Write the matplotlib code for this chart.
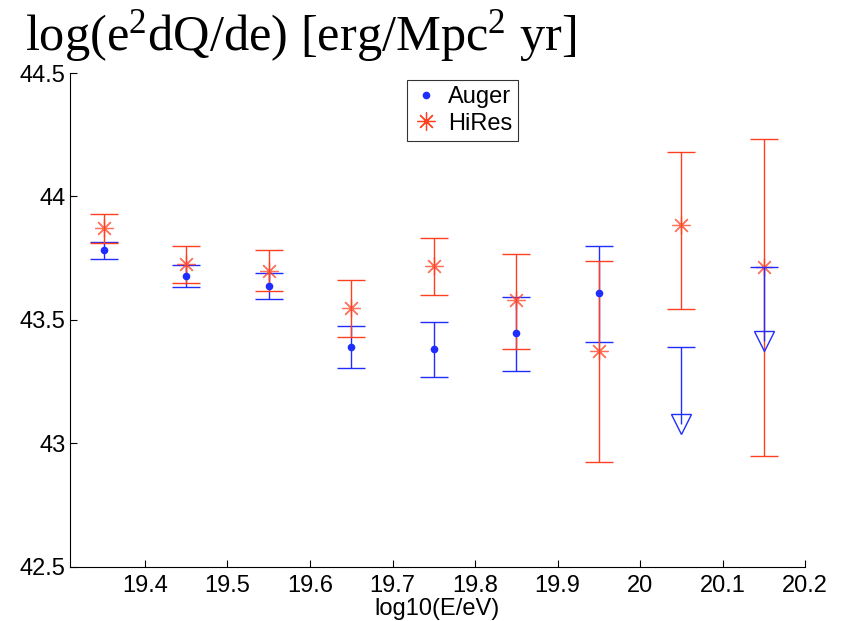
import matplotlib
matplotlib.use("Agg")
import matplotlib.pyplot as plt
from matplotlib.lines import Line2D

# ---- data ----
auger_x = [19.35, 19.45, 19.55, 19.65, 19.75, 19.85, 19.95]
auger_y = [43.783, 43.677, 43.636, 43.391, 43.382, 43.445, 43.610]
auger_lo = [43.747, 43.632, 43.584, 43.305, 43.270, 43.294, 43.410]
auger_hi = [43.815, 43.721, 43.690, 43.474, 43.491, 43.591, 43.799]

auger_ul_x = [20.05, 20.15]
auger_ul_cap = [43.390, 43.713]
auger_ul_val = [43.077, 43.414]

hires_x = [19.35, 19.45, 19.55, 19.65, 19.75, 19.85, 19.95, 20.05, 20.15]
hires_y = [43.871, 43.725, 43.699, 43.547, 43.718, 43.580, 43.374, 43.884, 43.714]
hires_lo = [43.812, 43.648, 43.615, 43.430, 43.600, 43.383, 42.923, 43.543, 42.950]
hires_hi = [43.929, 43.799, 43.781, 43.660, 43.830, 43.768, 43.737, 44.181, 44.232]

xticks = [19.4, 19.5, 19.6, 19.7, 19.8, 19.9, 20.0, 20.1, 20.2]
xticklabels = ["19.4", "19.5", "19.6", "19.7", "19.8", "19.9", "20", "20.1", "20.2"]
yticks = [42.5, 43.0, 43.5, 44.0, 44.5]
yticklabels = ["42.5", "43", "43.5", "44", "44.5"]

BLUE = "#1f2dff"
RED = "#ff4020"

plt.rcParams["font.family"] = ["Liberation Sans", "DejaVu Sans"]
plt.rcParams["mathtext.fontset"] = "custom"
plt.rcParams["mathtext.rm"] = "Liberation Serif"
plt.rcParams["mathtext.it"] = "Liberation Serif:italic"
plt.rcParams["mathtext.default"] = "rm"

fig = plt.figure(figsize=(8.46, 6.21), dpi=100)
ax = fig.add_axes([69.7 / 846, 1 - 566.7 / 621, (805.3 - 69.7) / 846, (566.7 - 73) / 621])

# Auger
a_err = [[y - l for y, l in zip(auger_y, auger_lo)], [h - y for y, h in zip(auger_y, auger_hi)]]
ax.errorbar(auger_x, auger_y, yerr=a_err, fmt="none", ecolor=BLUE,
            capsize=10, elinewidth=1.0, capthick=1.0, zorder=3)
ax.plot(auger_x, auger_y, ls="none", marker="o", ms=5.5, mew=0, color=BLUE, zorder=7)

# HiRes
h_err = [[y - l for y, l in zip(hires_y, hires_lo)], [h - y for y, h in zip(hires_y, hires_hi)]]
ax.errorbar(hires_x, hires_y, yerr=h_err, fmt="none", ecolor=RED,
            capsize=10, elinewidth=1.0, capthick=1.0, zorder=4)
ax.plot(hires_x, hires_y, ls="none", marker=(8, 2, 0), ms=13, mew=0.9,
        color=RED, alpha=0.75, zorder=5)

# Auger upper limits
ax.vlines(auger_ul_x, auger_ul_val, auger_ul_cap, color=BLUE, lw=1.0, zorder=6)
ax.plot(auger_ul_x, auger_ul_cap, ls="none", marker="_", ms=20, mew=1.0, color=BLUE, zorder=6)
ax.plot(auger_ul_x, auger_ul_val, ls="none", marker="v", ms=15, mfc="none",
        mec=BLUE, mew=1.0, zorder=6)

ax.set_xlim(19.309, 20.2)
ax.set_ylim(42.5, 44.5)
ax.set_xticks(xticks)
ax.set_xticklabels(xticklabels)
ax.set_yticks(yticks)
ax.set_yticklabels(yticklabels)
for s in ["top", "right"]:
    ax.spines[s].set_visible(False)
for s in ["left", "bottom"]:
    ax.spines[s].set_linewidth(0.8)
ax.tick_params(axis="both", direction="in", length=5, width=0.8, labelsize=17)
ax.tick_params(axis="y", pad=3)
ax.tick_params(axis="x", pad=6)
ax.set_xlabel("log10(E/eV)", fontsize=17, labelpad=1)

handles = [
    Line2D([], [], ls="none", marker="o", ms=5.5, mew=0, color=BLUE),
    Line2D([], [], ls="none", marker=(8, 2, 0), ms=13, mew=0.9, color=RED),
]
leg = ax.legend(handles, ["Auger", "HiRes"], loc="upper left",
                bbox_to_anchor=(407 / 846, 1 - 80 / 621), bbox_transform=fig.transFigure,
                borderaxespad=0, frameon=True, fancybox=False, fontsize=17,
                handlelength=1.1, handletextpad=0.4, borderpad=0.25, labelspacing=0.2)
leg.get_frame().set_edgecolor("black")
leg.get_frame().set_linewidth(0.8)

fig.text(25 / 846, 1 - 50 / 621, r"log(e$^2$dQ/de) [erg/Mpc$^2$ yr]", fontsize=36.3,
         family=["Liberation Serif", "DejaVu Serif"], va="baseline", ha="left")

fig.savefig("out.png", dpi=100)
